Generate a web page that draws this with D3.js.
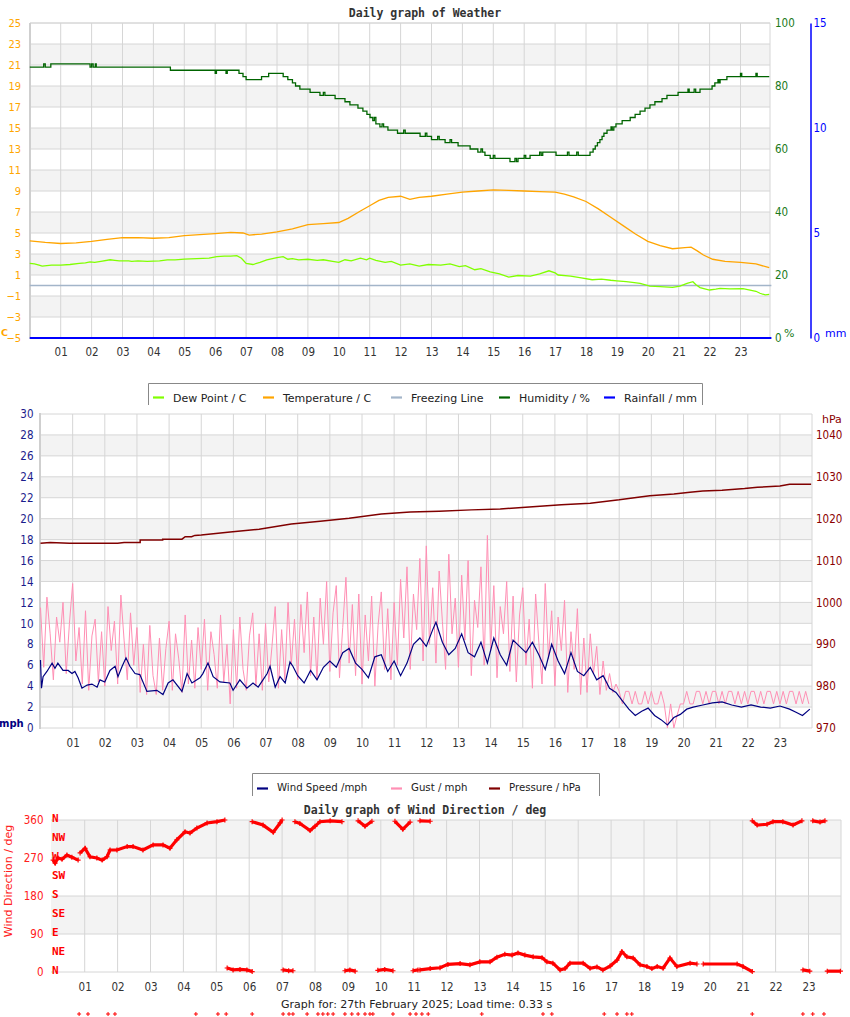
<!DOCTYPE html>
<html><head><meta charset="utf-8">
<script src="https://cdnjs.cloudflare.com/ajax/libs/d3/7.8.5/d3.min.js"></script>
<style>body{margin:0;background:#fff} svg{display:block}</style>
</head><body>
<svg id="c" width="850" height="1017"></svg>
<script>
// ---------------- DATA ----------------
const hourLabels = ["01","02","03","04","05","06","07","08","09","10","11","12","13","14","15","16","17","18","19","20","21","22","23"];
const tempTicks = [25,23,21,19,17,15,13,11,9,7,5,3,1,-1,-3,-5];
const humTicks = [100,80,60,40,20,0];
const rainTicks = [15,10,5,0];
const windTicks = [30,28,26,24,22,20,18,16,14,12,10,8,6,4,2,0];
const pressTicks = [1040,1030,1020,1010,1000,990,980,970];
const dirTicks = [360,270,180,90,0];
const compassLabels = ["N","NE","E","SE","S","SW","W","NW","N"];
const compassDegs = [0,45,90,135,180,225,270,315,360];

const legend1Names = ["Dew Point / C","Temperature / C","Freezing Line","Humidity / %","Rainfall / mm"];
const legend2Names = ["Wind Speed /mph","Gust / mph","Pressure / hPa"];

// humidity % [hour, value]
const humidity = [[0,86],[0.45,87],[0.5,86],[0.68,87],[1.95,86],[2.0,87],[2.05,86],[2.12,87],[2.15,86],[4.55,85],[6.0,84],[6.04,85],[6.35,84],[6.39,85],[6.77,84],[6.9,83],[7.0,82],[7.5,83],[7.73,84],[8.2,83],[8.35,82],[8.5,81],[8.6,80],[8.74,79],[9.07,78],[9.39,77],[9.5,78],[9.55,77],[9.88,76],[10.2,75],[10.36,74],[10.62,73],[10.78,72],[10.91,71],[11.01,70],[11.1,69],[11.15,70],[11.2,68],[11.33,67],[11.4,68],[11.45,67],[11.59,66],[11.9,65],[12.1,66],[12.15,65],[12.63,64],[12.8,65],[12.85,64],[13.0,63],[13.2,64],[13.25,63],[13.44,62],[13.6,63],[13.65,62],[13.86,61],[14.25,60],[14.5,59],[14.6,60],[14.65,59],[14.73,58],[14.9,57],[15.0,58],[15.05,57],[15.54,56],[15.7,57],[15.75,56],[15.8,57],[16.0,58],[16.05,57],[16.19,58],[16.5,59],[16.55,58],[16.6,59],[17.03,58],[17.4,59],[17.45,58],[17.7,59],[17.75,58],[18.13,59],[18.23,60],[18.3,61],[18.37,62],[18.45,63],[18.52,64],[18.58,65],[18.68,66],[18.81,67],[18.85,66],[18.9,67],[18.97,68],[19.17,69],[19.43,70],[19.59,71],[19.75,72],[19.91,73],[20.07,74],[20.23,75],[20.46,76],[20.62,77],[20.98,78],[21.3,79],[21.34,78],[21.5,79],[21.55,78],[21.69,79],[22.08,80],[22.17,81],[22.27,82],[22.3,81],[22.34,82],[22.56,83],[23.0,84],[23.04,83],[23.5,84],[23.54,83],[23.93,83]];

// temperature C [hour, value]
const temperature = [[0,4.25],[0.5,4.1],[1,4.0],[1.5,4.05],[2,4.2],[2.5,4.4],[3,4.55],[3.5,4.55],[4,4.5],[4.5,4.55],[5,4.75],[5.5,4.85],[6,4.95],[6.5,5.05],[6.9,5.0],[7.1,4.8],[7.5,4.9],[8,5.1],[8.5,5.4],[9,5.8],[9.5,5.9],[10,6.0],[10.3,6.4],[10.7,7.1],[11.0,7.6],[11.3,8.1],[11.6,8.4],[12,8.5],[12.3,8.2],[12.6,8.4],[13,8.5],[13.5,8.7],[14,8.9],[14.5,9.0],[15,9.1],[15.5,9.05],[16,9.0],[16.5,8.95],[17,8.9],[17.3,8.7],[17.6,8.45],[18,8.0],[18.4,7.3],[18.8,6.5],[19.2,5.7],[19.6,4.9],[20,4.2],[20.4,3.8],[20.8,3.5],[21.2,3.6],[21.4,3.65],[21.6,3.3],[21.8,2.9],[22.1,2.5],[22.5,2.3],[23,2.2],[23.5,2.05],[23.93,1.7]];

// dew point C [hour, value]
const dewPoint = [[0.0,2.1],[0.15,2.05],[0.3,1.95],[0.4,1.85],[0.55,1.9],[0.7,1.95],[1.0,1.95],[1.3,2.0],[1.6,2.1],[1.8,2.15],[1.95,2.25],[2.1,2.2],[2.3,2.3],[2.6,2.45],[2.75,2.4],[2.9,2.35],[3.2,2.35],[3.3,2.3],[3.5,2.35],[3.8,2.3],[4.2,2.35],[4.45,2.45],[4.7,2.45],[5.0,2.52],[5.4,2.55],[5.8,2.6],[6.05,2.75],[6.3,2.8],[6.5,2.8],[6.7,2.85],[6.85,2.6],[7.0,2.1],[7.22,2.0],[7.45,2.2],[7.67,2.43],[8.0,2.65],[8.2,2.74],[8.35,2.5],[8.5,2.55],[8.7,2.45],[9.0,2.5],[9.3,2.4],[9.5,2.45],[9.8,2.3],[10.0,2.2],[10.2,2.45],[10.4,2.35],[10.7,2.6],[10.9,2.45],[11.0,2.6],[11.2,2.4],[11.5,2.2],[11.7,2.3],[12.0,1.95],[12.3,2.05],[12.6,1.85],[12.9,2.0],[13.3,1.95],[13.6,2.05],[13.9,1.8],[14.1,1.9],[14.4,1.5],[14.6,1.6],[14.9,1.3],[15.2,1.1],[15.5,0.8],[15.8,0.95],[16.2,0.9],[16.5,1.1],[16.8,1.4],[17.0,1.2],[17.1,1.0],[17.5,0.9],[17.8,0.75],[18.2,0.55],[18.5,0.6],[18.8,0.5],[19.0,0.45],[19.3,0.36],[19.5,0.3],[19.75,0.2],[20.07,-0.05],[20.4,-0.1],[20.8,-0.17],[21.04,-0.05],[21.27,0.2],[21.46,0.36],[21.55,0.1],[21.69,-0.2],[22.0,-0.43],[22.2,-0.35],[22.34,-0.27],[22.66,-0.33],[23.08,-0.3],[23.31,-0.43],[23.5,-0.55],[23.63,-0.74],[23.8,-0.9],[23.93,-0.85]];

const freezing = [[0,0],[24,0]];
const rainfall = [[0,0],[24,0]];

// wind speed mph [hour, value]
const windSpeed = [[0.0,6.5],[0.03,3.8],[0.08,4.9],[0.2,5.4],[0.36,6.2],[0.45,5.7],[0.54,6.2],[0.7,5.5],[0.86,5.5],[0.98,5.2],[1.07,5.4],[1.17,4.8],[1.29,3.8],[1.45,4.1],[1.6,4.2],[1.76,3.9],[1.85,4.6],[2.0,4.4],[2.16,5.5],[2.32,5.9],[2.41,4.9],[2.54,5.9],[2.66,6.7],[2.78,5.9],[2.94,5.2],[3.09,5.1],[3.31,3.5],[3.62,3.6],[3.81,3.2],[3.97,4.3],[4.12,4.6],[4.4,3.5],[4.56,5.2],[4.71,4.3],[4.96,4.8],[5.05,5.2],[5.21,6.2],[5.37,4.9],[5.58,4.4],[5.89,4.3],[5.99,3.6],[6.2,4.6],[6.42,3.8],[6.61,4.3],[6.77,3.9],[6.92,4.6],[7.05,5.2],[7.14,5.9],[7.3,3.9],[7.45,4.9],[7.61,4.3],[7.76,6.3],[7.85,5.9],[8.0,5.0],[8.2,4.3],[8.4,5.5],[8.6,4.6],[8.8,5.8],[9.0,6.4],[9.2,5.8],[9.4,7.2],[9.6,7.6],[9.8,6.2],[10.0,5.6],[10.2,4.8],[10.4,6.8],[10.6,7.0],[10.8,5.4],[11.0,6.4],[11.2,5.0],[11.4,6.2],[11.6,8.0],[11.8,8.6],[12.0,7.8],[12.2,9.4],[12.3,10.1],[12.5,8.2],[12.7,7.0],[12.9,7.6],[13.1,9.0],[13.3,7.2],[13.5,6.8],[13.7,8.2],[13.9,6.2],[14.1,8.6],[14.3,7.0],[14.5,6.0],[14.7,8.4],[14.9,7.8],[15.1,7.2],[15.3,8.2],[15.5,7.0],[15.7,5.6],[15.9,8.0],[16.1,6.4],[16.3,5.2],[16.5,7.2],[16.7,5.4],[16.9,5.0],[17.1,5.8],[17.3,4.6],[17.5,5.0],[17.7,3.8],[17.9,3.4],[18.1,2.6],[18.3,1.8],[18.5,1.2],[18.7,1.6],[18.9,1.9],[19.1,1.2],[19.3,0.8],[19.5,0.3],[19.7,1.0],[19.9,1.3],[20.1,1.8],[20.3,2.0],[20.6,2.2],[20.9,2.4],[21.2,2.5],[21.5,2.2],[21.8,2.0],[22.1,2.2],[22.4,2.0],[22.7,1.9],[23.0,2.1],[23.3,1.8],[23.5,1.5],[23.7,1.2],[23.93,1.8]];

// gust mph, one reading every 0.1 h, rows = hours 0..23
const gustStep = 0.1;
const gust = [
 11.5,5.8,12.5,9.0,4.6,10.6,8.2,12.0,5.2,10.0,
 13.8,6.4,9.6,4.2,11.2,3.6,8.8,10.4,4.4,9.2,
 4.0,11.6,7.4,10.2,4.2,12.7,8.4,4.6,11.0,6.0,
 9.6,3.4,8.0,3.2,9.8,5.0,3.2,8.6,3.6,7.6,
 10.2,3.6,9.0,6.6,3.4,10.8,4.2,8.4,3.8,9.6,
 5.6,10.4,3.6,9.2,7.0,3.8,10.8,4.4,8.0,2.3,
 9.4,3.8,10.6,5.6,3.6,8.8,11.0,4.0,9.0,3.6,
 10.0,4.4,7.8,11.6,3.8,9.4,4.6,12.0,6.0,10.4,
 4.6,11.8,7.2,13.0,5.0,10.6,4.6,12.4,8.0,14.0,
 5.4,11.0,13.6,4.8,9.6,14.4,6.2,11.8,5.0,12.8,
 4.2,10.8,6.4,12.6,4.0,9.8,13.0,5.6,11.4,4.6,
 12.0,6.0,14.2,8.6,15.4,5.6,12.8,9.4,16.2,6.4,
 17.4,8.0,13.4,6.2,15.0,10.2,5.6,16.6,9.0,12.4,
 5.8,14.6,8.4,16.0,5.0,12.2,9.6,15.4,6.0,18.4,
 7.4,13.6,4.8,11.6,9.0,14.0,5.4,12.6,4.4,10.8,
 13.4,6.0,10.4,3.8,12.8,8.2,4.2,13.8,6.6,11.2,
 4.0,10.6,7.4,12.2,3.4,9.2,5.6,11.4,3.2,8.6,
 3.4,9.0,5.2,7.8,3.2,6.4,3.6,5.2,3.4,4.2,
 3.5,2.3,3.5,3.5,2.3,3.5,2.3,2.3,3.5,2.3,
 3.5,2.3,2.3,3.5,2.3,0.0,2.3,0.0,1.2,2.3,
 2.3,3.5,2.3,2.3,3.5,3.5,2.3,3.5,2.3,3.5,
 3.5,2.3,3.5,2.3,3.5,3.5,2.3,3.5,2.3,3.5,
 2.3,3.5,3.5,2.3,3.5,2.3,3.5,3.5,2.3,3.5,
 2.3,3.5,2.3,3.5,3.5,2.3,3.5,2.3,3.5,2.3
];

// pressure hPa [hour, value]
const pressure = [[0,1014.1],[0.3,1014.3],[0.9,1014.1],[2.4,1014.1],[2.6,1014.3],[3.1,1014.3],[3.1,1014.9],[3.8,1014.9],[3.8,1015.1],[4.4,1015.1],[4.5,1015.7],[4.7,1015.7],[4.8,1016.0],[5.0,1016.1],[5.9,1016.8],[6.8,1017.5],[7.8,1018.7],[8.7,1019.4],[9.6,1020.1],[10.6,1021.1],[11.5,1021.6],[12.4,1021.8],[13.4,1022.1],[14.3,1022.3],[15.2,1022.8],[16.2,1023.3],[17.1,1023.7],[18.0,1024.5],[18.65,1025.2],[18.95,1025.5],[19.7,1025.9],[20.2,1026.3],[20.6,1026.6],[21.2,1026.8],[21.9,1027.2],[22.3,1027.5],[23.0,1027.8],[23.3,1028.2],[23.97,1028.2]];

// wind direction deg, segments [hour, value]
const dirSegments = [
 [[0.04,265],[0.1,258],[0.19,270],[0.31,267],[0.46,277],[0.61,272],[0.8,265]],
 [[0.86,282],[1.01,293],[1.16,273],[1.37,270],[1.53,265],[1.68,273],[1.77,289],[1.98,289],[2.29,297],[2.47,297],[2.77,289],[3.08,301],[3.38,301],[3.59,293],[3.8,313],[4.05,332],[4.2,329],[4.41,341],[4.72,353],[5.02,356],[5.26,360]],
 [[5.33,9.5],[5.51,5],[5.72,6],[5.93,5],[6.09,1]],
 [[6.09,356],[6.42,348],[6.73,331],[6.94,353],[7.0,360]],
 [[7.03,5],[7.2,3],[7.33,3]],
 [[7.39,356],[7.54,352],[7.85,335],[8.0,345],[8.15,356],[8.46,358],[8.82,356]],
 [[8.91,3],[9.06,5],[9.22,2]],
 [[9.31,358],[9.52,345],[9.73,357]],
 [[9.91,4],[10.12,6],[10.37,3]],
 [[10.43,357],[10.67,338],[10.89,355]],
 [[10.98,3],[11.13,5]],
 [[11.19,358],[11.5,357]],
 [[11.19,5],[11.5,8],[11.8,10],[12.04,18],[12.41,20],[12.71,17],[13.01,24],[13.32,24],[13.53,35],[13.77,42],[13.99,40],[14.17,45],[14.38,40],[14.63,36],[14.9,34],[15.05,24],[15.23,21],[15.45,5],[15.6,8],[15.75,21],[16.15,21],[16.36,9],[16.57,12],[16.75,5],[16.97,14],[17.18,28],[17.33,48],[17.48,36],[17.67,33],[17.88,17],[18.09,13],[18.24,8],[18.4,13],[18.58,9],[18.79,33],[19.0,13],[19.4,21],[19.61,19]],
 [[19.8,19],[20.83,19],[21.01,13],[21.29,1]],
 [[21.29,358],[21.44,348],[21.74,350],[21.92,356],[22.22,356],[22.53,348],[22.8,358]],
 [[22.83,5],[23.04,2]],
 [[23.13,358],[23.35,355],[23.5,358]],
 [[23.57,2],[23.97,2]]
];
// direction markers drawn in the footer row
const dirFooterHours = [0.83,1.1,1.71,1.92,4.38,5.05,5.3,6.09,7.03,7.21,7.33,7.76,8.09,8.24,8.39,8.55,8.91,9.12,9.31,9.52,9.67,9.76,10.37,10.89,11.07,11.25,11.44,13.07,14.93,15.2,16.79,17.18,17.48,17.63,21.29,22.83,23.13,23.47];

// ---------------- DRAWING ----------------
const svg = d3.select("#c");
const SANS = "'DejaVu Sans', sans-serif";
const COND = "'DejaVu Sans Condensed', 'DejaVu Sans', sans-serif";
const MONO = "'DejaVu Sans Mono', monospace";
const BAND = "#f3f3f3", GRID = "#d6d6d6";

function styleAxis(g, color, size, keepDomain) {
  g.selectAll(".tick line").remove();
  if (!keepDomain) g.select(".domain").remove();
  g.attr("font-family", COND).attr("font-size", size);
  g.selectAll("text").attr("fill", color);
}
function plotArea(x, y, left, right, top, bottom, bandTops, bandStep, gridVals) {
  const g = svg.append("g");
  bandTops.forEach(v => g.append("rect").attr("x", left).attr("width", right - left)
    .attr("y", y(v)).attr("height", y(v - bandStep) - y(v)).attr("fill", BAND));
  gridVals.forEach(v => g.append("line").attr("x1", left).attr("x2", right)
    .attr("y1", y(v)).attr("y2", y(v)).attr("stroke", GRID));
  d3.range(1, 24).forEach(h => g.append("line").attr("x1", x(h)).attr("x2", x(h))
    .attr("y1", top).attr("y2", bottom).attr("stroke", GRID));
  g.append("line").attr("x1", right).attr("x2", right).attr("y1", top).attr("y2", bottom).attr("stroke", GRID);
  return g;
}
function hourAxis(x, yPos, pad) {
  const g = svg.append("g").attr("transform", `translate(0,${yPos})`)
    .call(d3.axisBottom(x).tickValues(d3.range(1, 24)).tickFormat(d => hourLabels[d - 1]).tickSize(0).tickPadding(pad));
  styleAxis(g, "#333", 11.5, false);
}
function drawLine(data, x, y, color, width, curve) {
  svg.append("path").datum(data).attr("fill", "none").attr("stroke", color).attr("stroke-width", width)
    .attr("d", d3.line().x(d => x(d[0])).y(d => y(d[1])).curve(curve || d3.curveLinear));
}
function title(text, yPos) {
  svg.append("text").attr("x", 425).attr("y", yPos).attr("text-anchor", "middle")
    .attr("font-family", MONO).attr("font-weight", "bold").attr("font-size", 11.5).attr("fill", "#333").text(text);
}

// ===== Chart 1 =====
const x1 = d3.scaleLinear().domain([0, 24]).range([29.8, 771.4]);
const y1 = d3.scaleLinear().domain([-5, 25]).range([338, 23]);
const yHum = d3.scaleLinear().domain([0, 100]).range([338, 23]);
const yRain = d3.scaleLinear().domain([0, 15]).range([338, 23]);
title("Daily graph of Weather", 17);
plotArea(x1, y1, 30, 770, 23, 338, [23, 19, 15, 11, 7, 3, -1], 2, tempTicks);
svg.append("line").attr("x1", 30).attr("x2", 770).attr("y1", 23).attr("y2", 23).attr("stroke", GRID);
svg.append("line").attr("x1", 30).attr("x2", 30).attr("y1", 23).attr("y2", 339).attr("stroke", "#cfcfcf").attr("stroke-width", 2);
drawLine(freezing, x1, y1, "#a3b5c9", 1.5);
drawLine(dewPoint, x1, y1, "#80ff00", 1.3);
drawLine(temperature, x1, y1, "#ffa500", 1.3);
drawLine(humidity, x1, yHum, "#006400", 1.3, d3.curveStepAfter);
drawLine(rainfall, x1, yRain, "#0000ff", 2);
{
  const g = svg.append("g").attr("transform", "translate(30,0)").call(d3.axisLeft(y1).tickValues(tempTicks).tickSize(0).tickPadding(9));
  styleAxis(g, "#ffa500", 11, false);
  const g2 = svg.append("g").attr("transform", "translate(770,0)").call(d3.axisRight(yHum).tickValues(humTicks).tickSize(0).tickPadding(5));
  styleAxis(g2, "#1a7a1a", 11.5, false);
  const g3 = svg.append("g").attr("transform", "translate(810.5,0)").call(d3.axisRight(yRain).tickValues(rainTicks).tickSize(0).tickSizeOuter(0).tickPadding(3));
  styleAxis(g3, "#0000ff", 11.5, true);
  g3.select(".domain").attr("stroke", "#0000ff").attr("stroke-width", 1.5);
}
hourAxis(x1, 338, 10);
svg.append("text").attr("x", 1).attr("y", 336).attr("font-family", SANS).attr("font-weight", "bold").attr("font-size", 9.5).attr("fill", "#ffa500").text("C");
svg.append("text").attr("x", 784).attr("y", 337).attr("font-family", SANS).attr("font-size", 11).attr("fill", "#1a7a1a").text("%");
svg.append("text").attr("x", 825).attr("y", 337).attr("font-family", SANS).attr("font-size", 11).attr("fill", "#0000ff").text("mm");

// legend 1
{
  const colors = ["#80ff00", "#ffa500", "#a3b5c9", "#006400", "#0000ff"];
  const xs = [153, 263, 391, 499, 604];
  svg.append("rect").attr("x", 148.5).attr("y", 383.5).attr("width", 554).attr("height", 22.5).attr("fill", "#fff");
  svg.append("path").attr("d", "M148.5,405V383.5H702.5V405").attr("fill", "none").attr("stroke", "#888");
  legend1Names.forEach((n, i) => {
    svg.append("line").attr("x1", xs[i]).attr("x2", xs[i] + 11).attr("y1", 397.5).attr("y2", 397.5).attr("stroke", colors[i]).attr("stroke-width", 2.2);
    svg.append("text").attr("x", xs[i] + 20).attr("y", 401.5).attr("font-family", SANS).attr("font-size", 11).attr("fill", "#222").text(n);
  });
}

// ===== Chart 2 =====
const x2 = d3.scaleLinear().domain([0, 24]).range([40.5, 812.1]);
const y2 = d3.scaleLinear().domain([0, 30]).range([728, 414]);
const yP = d3.scaleLinear().domain([970, 1045]).range([728, 414]);
plotArea(x2, y2, 40, 812, 414, 728, [28, 24, 20, 16, 12, 8, 4], 2, windTicks);
svg.append("line").attr("x1", 40).attr("x2", 40).attr("y1", 413).attr("y2", 729).attr("stroke", "#cfcfcf").attr("stroke-width", 2);
drawLine(gust.map((v, i) => [i * gustStep, v]), x2, y2, "#ff8fb4", 1);
drawLine(windSpeed, x2, y2, "#000080", 1.2);
drawLine(pressure, x2, yP, "#800000", 1.5);
{
  const g = svg.append("g").attr("transform", "translate(40,0)").call(d3.axisLeft(y2).tickValues(windTicks).tickSize(0).tickPadding(6.5));
  styleAxis(g, "#1c1c8c", 11.5, false);
  const g2 = svg.append("g").attr("transform", "translate(812,0)").call(d3.axisRight(yP).tickValues(pressTicks).tickFormat(d3.format("d")).tickSize(0).tickPadding(4));
  styleAxis(g2, "#8b0000", 11.5, false);
}
hourAxis(x2, 728, 11);
svg.append("text").attr("x", -1).attr("y", 727).attr("font-family", SANS).attr("font-weight", "bold").attr("font-size", 10).attr("fill", "#000080").text("mph");
svg.append("text").attr("x", 822).attr("y", 423).attr("font-family", SANS).attr("font-size", 11).attr("fill", "#8b0000").text("hPa");

// legend 2
{
  const colors = ["#000080", "#ff8fb4", "#800000"];
  const xs = [257, 391, 489];
  svg.append("path").attr("d", "M252.5,796V773.5H599.5V796").attr("fill", "none").attr("stroke", "#888");
  legend2Names.forEach((n, i) => {
    svg.append("line").attr("x1", xs[i]).attr("x2", xs[i] + 11).attr("y1", 788.5).attr("y2", 788.5).attr("stroke", colors[i]).attr("stroke-width", 2.2);
    svg.append("text").attr("x", xs[i] + 20).attr("y", 791).attr("font-family", SANS).attr("font-size", 10.2).attr("fill", "#222").text(n);
  });
}

// ===== Chart 3 =====
const x3 = d3.scaleLinear().domain([0, 24]).range([51.8, 841.4]);
const y3 = d3.scaleLinear().domain([0, 360]).range([972, 820]);
title("Daily graph of Wind Direction / deg", 814);
plotArea(x3, y3, 51, 841, 820, 972, [360, 180], 90, dirTicks);
dirSegments.forEach(seg => drawLine(seg, x3, y3, "#ff0000", 3.2));
const plus = "M-2.5,0H2.5M0,-2.5V2.5";
dirSegments.forEach(seg => seg.forEach(d => svg.append("path").attr("d", plus)
  .attr("transform", `translate(${x3(d[0])},${y3(d[1])})`).attr("stroke", "#ff0000").attr("stroke-width", 1.2)));
dirFooterHours.forEach(h => svg.append("path").attr("d", "M-2,0H2M0,-2V2")
  .attr("transform", `translate(${x3(h)},1014)`).attr("stroke", "#ff0000").attr("stroke-width", 1));
{
  const g = svg.append("g").attr("transform", "translate(51,0)").call(d3.axisLeft(y3).tickValues(dirTicks).tickSize(0).tickPadding(7.5));
  styleAxis(g, "#ff2020", 11.5, false);
}
compassLabels.forEach((c, i) => svg.append("text").attr("x", 52).attr("y", y3(compassDegs[i]) + 2)
  .attr("font-family", MONO).attr("font-weight", "bold").attr("font-size", 11).attr("fill", "#ff0000").text(c));
hourAxis(x3, 972, 10.7);
svg.append("text").attr("transform", "translate(12,881) rotate(-90)").attr("text-anchor", "middle")
  .attr("font-family", SANS).attr("font-size", 11).attr("fill", "#ff2020").text("Wind Direction / deg");

// footer
svg.append("text").attr("x", 281).attr("y", 1008).attr("font-family", SANS).attr("font-size", 11).attr("fill", "#222")
  .text("Graph for: 27th February 2025; Load time: 0.33 s");
</script>
</body></html>
